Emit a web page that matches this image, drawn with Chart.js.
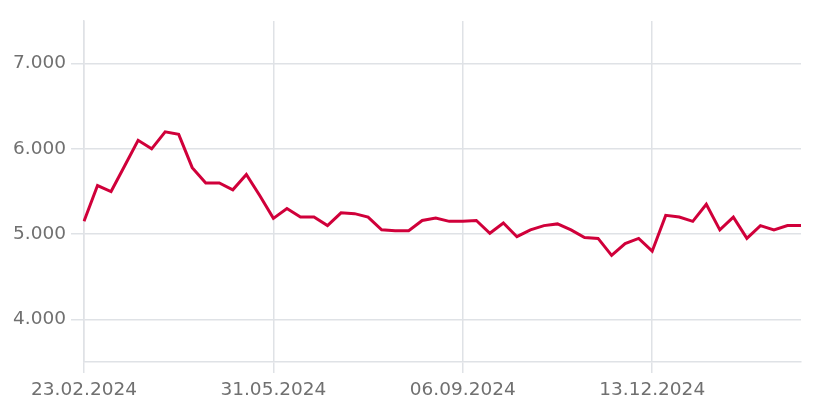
<!DOCTYPE html>
<html>
<head>
<meta charset="utf-8">
<script src="https://cdn.jsdelivr.net/npm/chart.js@4"></script>
<style>
  html, body { margin: 0; padding: 0; background: #fff; }
  #wrap { width: 822px; height: 413px; }
</style>
</head>
<body>
<div id="wrap"><canvas id="priceChart"></canvas></div>
<script>
const dates = [
  "23.02.2024", "01.03.2024", "08.03.2024", "15.03.2024", "22.03.2024", "29.03.2024",
  "05.04.2024", "12.04.2024", "19.04.2024", "26.04.2024", "03.05.2024", "10.05.2024",
  "17.05.2024", "24.05.2024", "31.05.2024", "07.06.2024", "14.06.2024", "21.06.2024",
  "28.06.2024", "05.07.2024", "12.07.2024", "19.07.2024", "26.07.2024", "02.08.2024",
  "09.08.2024", "16.08.2024", "23.08.2024", "30.08.2024", "06.09.2024", "13.09.2024",
  "20.09.2024", "27.09.2024", "04.10.2024", "11.10.2024", "18.10.2024", "25.10.2024",
  "01.11.2024", "08.11.2024", "15.11.2024", "22.11.2024", "29.11.2024", "06.12.2024",
  "13.12.2024", "20.12.2024", "27.12.2024", "03.01.2025", "10.01.2025", "17.01.2025",
  "24.01.2025", "31.01.2025", "07.02.2025", "14.02.2025", "21.02.2025", "28.02.2025"
];

const prices = [
  5150, 5570, 5500, 5800, 6100, 6000, 6200, 6170, 5780, 5600, 5600, 5520,
  5700, 5450, 5185, 5300, 5200, 5200, 5100, 5250, 5240, 5200, 5050, 5040,
  5040, 5160, 5190, 5150, 5150, 5160, 5010, 5130, 4970, 5050, 5100, 5120,
  5050, 4960, 4950, 4750, 4890, 4950, 4800, 5220, 5200, 5150, 5350, 5050,
  5200, 4950, 5100, 5050, 5100, 5100
];

const shownDates = ["23.02.2024", "31.05.2024", "06.09.2024", "13.12.2024"];
const yTicks = [4000, 5000, 6000, 7000];

const gridColor = "#dfe2e6";
const textColor = "#707070";
const tickFont = { family: "DejaVu Sans", size: 18.5 };

const ctx = document.getElementById("priceChart").getContext("2d");

new Chart(ctx, {
  type: "line",
  data: {
    labels: dates,
    datasets: [{
      data: prices,
      borderColor: "#d0003a",
      borderWidth: 3,
      pointRadius: 0,
      fill: false,
      tension: 0
    }]
  },
  options: {
    responsive: true,
    maintainAspectRatio: false,
    animation: false,
    layout: {
      padding: { top: 21, right: 21, left: 0, bottom: 0 }
    },
    plugins: {
      legend: { display: false },
      tooltip: { enabled: false }
    },
    scales: {
      x: {
        grid: { color: gridColor, lineWidth: 1.5, tickLength: 11 },
        border: { color: gridColor, width: 1.5 },
        ticks: {
          autoSkip: false,
          maxRotation: 0,
          padding: 6,
          color: textColor,
          font: tickFont,
          callback: function (value) {
            const label = this.getLabelForValue(value);
            return shownDates.includes(label) ? label : null;
          }
        },
        afterFit: (axis) => { axis.height = 51; }
      },
      y: {
        min: 3500,
        max: 7500,
        afterBuildTicks: (axis) => {
          axis.ticks = yTicks.map(v => ({ value: v }));
        },
        grid: { color: gridColor, lineWidth: 1.5, tickLength: 13 },
        border: { color: gridColor, width: 1.5 },
        ticks: {
          padding: 5,
          color: textColor,
          font: tickFont,
          callback: (v) => v.toLocaleString("de-DE")
        },
        afterFit: (axis) => { axis.width = 84; }
      }
    }
  }
});
</script>
</body>
</html>
